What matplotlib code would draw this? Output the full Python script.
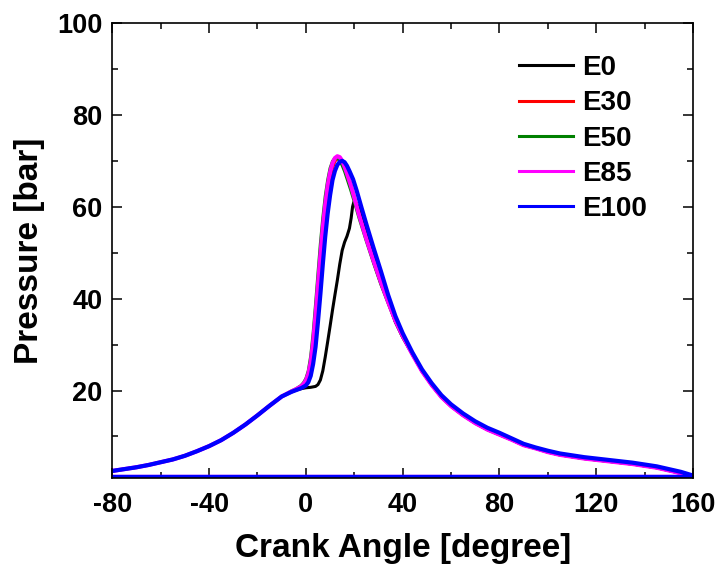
import matplotlib
matplotlib.use("Agg")
import matplotlib.pyplot as plt
from matplotlib.ticker import MultipleLocator, FixedLocator

plt.rcParams['font.family'] = ['Liberation Sans', 'DejaVu Sans']
plt.rcParams['font.weight'] = 'bold'
plt.rcParams['axes.unicode_minus'] = False

# Compression stroke (all fuels overlap here)
compression_angle = [-80, -75, -70, -65, -60, -55, -50, -45, -40, -35, -30, -25, -20, -15, -10]
compression_p = [2.5, 2.9, 3.3, 3.8, 4.4, 5.0, 5.8, 6.8, 7.9, 9.2, 10.8, 12.6, 14.6, 16.7, 18.7]

# Expansion stroke
expansion_angle = [44, 48, 52, 56, 60, 65, 70, 75, 80, 85, 90, 95, 100, 105, 110, 115, 120,
                   125, 130, 135, 140, 145, 150, 155, 160]
expansion_p_blend = [27.9, 24.2, 21.2, 18.6, 16.6, 14.6, 12.9, 11.5, 10.4, 9.3, 8.1, 7.4, 6.6,
                     6.0, 5.6, 5.2, 4.9, 4.6, 4.3, 4.0, 3.6, 3.2, 2.6, 2.0, 1.3]
expansion_p_e100 = [28.3, 24.6, 21.6, 19.0, 17.0, 15.0, 13.3, 11.9, 10.8, 9.6, 8.4, 7.6, 6.9,
                    6.3, 5.9, 5.5, 5.2, 4.9, 4.6, 4.3, 3.9, 3.5, 2.9, 2.3, 1.5]

# Exhaust/intake return of the logged cycle
wrap_angle = [160, -80]
wrap_p = [1.2, 1.2]

# Combustion window, per fuel
e0_angle = [-6, -4, -2, 0, 2, 4, 5, 6, 7, 8, 9, 10, 11, 12, 13, 14, 15, 16, 17, 18,
            18.7, 19.3, 19.8, 20.3, 21, 22, 25, 28, 31, 34, 37, 40]
e0_p = [19.7, 20.1, 20.4, 20.6, 20.7, 20.9, 21.3, 22.3, 24.3, 27.3, 30.6, 34.0, 37.5, 40.8,
        44.0, 47.5, 50.5, 52.3, 53.6, 55.3, 57.5, 60.0, 61.0, 61.2, 60.6, 59.6, 54.8, 50.0,
        44.6, 39.4, 34.9, 31.6]

e30_angle = [-6, -4, -2, -1, 0, 1, 2, 3, 4, 5, 6, 7, 8, 9, 10, 11, 12, 13, 14, 15, 16, 17,
             18.5, 20, 22, 25, 28, 31, 34, 37, 40]
e30_p = [19.8, 20.2, 20.7, 21.1, 21.8, 22.9, 24.9, 28.3, 33.5, 39.5, 46.0, 52.3, 57.8, 62.5,
         65.9, 68.4, 69.9, 70.5, 70.5, 69.9, 68.8, 67.4, 64.9, 62.1, 58.4, 52.9, 47.9, 43.3,
         39.2, 35.1, 31.8]

e50_angle = [-6, -4, -2, -1, 0, 1, 2, 3, 4, 5, 6, 7, 8, 9, 10, 11, 12, 13, 14, 15, 16, 17,
             18.5, 20, 22, 25, 28, 31, 34, 37, 40]
e50_p = [19.9, 20.4, 21.1, 21.7, 22.6, 24.3, 27.5, 32.5, 38.8, 45.5, 52.0, 57.6, 62.3, 65.8,
         68.4, 69.9, 70.6, 70.6, 70.0, 69.0, 67.7, 66.1, 63.7, 61.1, 57.5, 52.5, 47.7, 43.1,
         39.0, 35.0, 31.7]

e85_angle = [-6, -4, -2, -1, 0, 1, 2, 3, 4, 5, 6, 7, 8, 9, 10, 11, 12, 13, 14, 15, 16, 17,
             18.5, 20, 22, 25, 28, 31, 34, 37, 40]
e85_p = [19.8, 20.3, 20.9, 21.4, 22.2, 23.6, 26.2, 30.5, 36.5, 43.0, 49.5, 55.5, 60.5, 64.6,
         67.5, 69.5, 70.6, 71.0, 70.8, 70.0, 68.7, 67.2, 64.8, 62.0, 58.2, 53.0, 48.2, 43.6,
         39.3, 35.2, 31.9]

e100_angle = [-6, -4, -2, 0, 1, 2, 3, 4, 5, 6, 7, 8, 9, 10, 11, 12, 13, 14, 15, 16, 17, 18,
              19.5, 21, 23, 25, 28, 31, 34, 37, 40]
e100_p = [19.7, 20.1, 20.5, 21.1, 21.8, 23.2, 25.8, 29.5, 35.0, 41.0, 47.5, 53.5, 58.5, 62.5,
          65.8, 67.8, 69.1, 69.8, 70.0, 69.7, 68.9, 67.8, 66.0, 63.5, 59.8, 56.2, 51.0, 46.0,
          40.8, 36.2, 32.5]

labels = ['E0', 'E30', 'E50', 'E85', 'E100']
colors = ['#000000', '#ff0000', '#008000', '#ff00ff', '#0000ff']
windows = [(e0_angle, e0_p), (e30_angle, e30_p), (e50_angle, e50_p),
           (e85_angle, e85_p), (e100_angle, e100_p)]
tails = [expansion_p_blend] * 4 + [expansion_p_e100]
widths = [2.2, 2.2, 2.2, 3.0, 3.0]

fig = plt.figure(figsize=(7.2, 5.75), dpi=100)
ax = fig.add_axes([0.156, 0.169, 0.8065, 0.791])

for lab, col, (wa, wp), tail, lw in zip(labels, colors, windows, tails, widths):
    x = compression_angle + wa + expansion_angle + wrap_angle
    y = compression_p + wp + tail + wrap_p
    ax.plot(x, y, color=col, lw=lw, label=lab, solid_joinstyle='round')

ax.set_xlim(-80, 160)
ax.set_ylim(1, 100)
ax.xaxis.set_major_locator(MultipleLocator(40))
ax.xaxis.set_minor_locator(MultipleLocator(20))
ax.yaxis.set_major_locator(FixedLocator([20, 40, 60, 80, 100]))
ax.yaxis.set_minor_locator(FixedLocator([10, 30, 50, 70, 90]))
ax.tick_params(which='both', direction='in', top=True, right=True, width=1.1,
               labelsize=19.5)
ax.tick_params(axis='x', which='both', pad=10)
ax.tick_params(axis='y', which='both', pad=7)
ax.tick_params(which='major', length=7)
ax.tick_params(which='minor', length=4)
for s in ax.spines.values():
    s.set_linewidth(1.2)

ax.set_xlabel('Crank Angle [degree]', fontsize=24, fontweight='bold', labelpad=11)
ax.set_ylabel('Pressure [bar]', fontsize=24, fontweight='bold', labelpad=9)

leg = ax.legend(loc='upper left', bbox_to_anchor=(0.721, 0.904),
                bbox_transform=fig.transFigure, frameon=False, fontsize=20,
                handlelength=1.95, handletextpad=0.32, labelspacing=0.33,
                borderpad=0, borderaxespad=0)
for t in leg.get_texts():
    t.set_fontweight('bold')
for h in leg.get_lines():
    h.set_linewidth(2.2)

fig.savefig('out.png', dpi=100)
